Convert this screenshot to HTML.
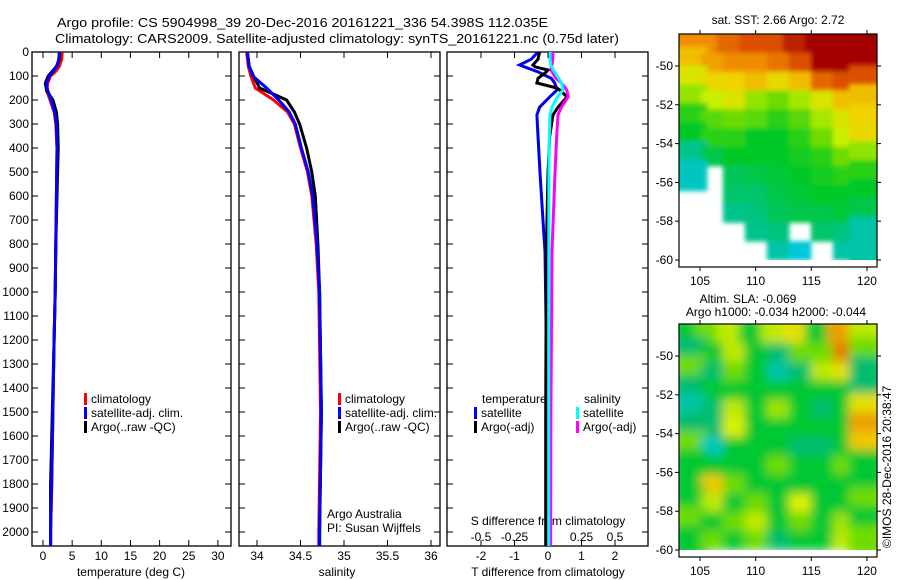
<!DOCTYPE html>
<html><head><meta charset="utf-8"><style>
html,body{margin:0;padding:0;background:#fff;}
svg{display:block;font-family:"Liberation Sans",sans-serif;}
</style></head><body>
<svg id="fig" width="900" height="580" viewBox="0 0 900 580" xmlns="http://www.w3.org/2000/svg">
<text x="57" y="27" font-size="13" textLength="491" lengthAdjust="spacingAndGlyphs">Argo profile: CS 5904998_39 20-Dec-2016 20161221_336 54.398S 112.035E</text>
<text x="55" y="43" font-size="13" textLength="564" lengthAdjust="spacingAndGlyphs">Climatology: CARS2009. Satellite-adjusted climatology: synTS_20161221.nc (0.75d later)</text>
<g id="g"></g>
</svg>
<script>
// ---- profile data (depth m) ----
const tDepth=[0,30,60,80,100,130,160,200,250,300,400,600,800,1000,1200,1500,1800,2000,2058];
const tClim=[3.3,3.2,2.8,2.2,1.3,0.8,0.6,1.2,1.9,2.2,2.4,2.3,2.2,2.1,1.9,1.7,1.5,1.3,1.3];
const tSat=[2.8,2.7,2.4,1.8,1.1,0.6,0.8,1.4,2.0,2.3,2.4,2.3,2.2,2.1,1.9,1.7,1.5,1.3,1.3];
const tArgo=[2.9,2.8,2.3,1.6,0.9,0.4,0.6,1.7,2.3,2.5,2.6,2.4,2.2,2.1,1.9,1.6,1.3,1.3,1.3];
const sDepth=[0,60,100,150,200,250,300,400,500,600,800,1000,1500,2000,2058];
const sClim=[33.88,33.90,33.93,33.98,34.19,34.35,34.43,34.50,34.58,34.63,34.68,34.71,34.73,34.71,34.71];
const sSat=[33.89,33.91,33.95,34.11,34.25,34.37,34.44,34.51,34.59,34.64,34.69,34.72,34.74,34.72,34.72];
const sArgo=[33.89,33.91,33.96,34.03,34.34,34.43,34.49,34.57,34.63,34.67,34.70,34.72,34.74,34.72,34.72];
const dDepth=[0,30,54,62,75,83,110,129,150,158,187,230,262,350,504,833,1200,1500,2000,2058];
const dTsat=[-0.3,-0.5,-0.85,-0.7,-0.45,-0.3,0.1,0.2,0.25,0.27,0.05,-0.25,-0.33,-0.3,-0.24,-0.09,-0.05,-0.03,-0.03,-0.03];
const dTargo=[-0.25,-0.3,-0.45,-0.38,0.0,-0.05,-0.3,-0.33,0.27,0.35,0.57,0.3,0.15,0.05,0.0,-0.05,-0.06,-0.07,-0.07,-0.07];
const dSsat=[0.015,0.015,0.02,0.03,0.04,0.05,0.08,0.1,0.11,0.112,0.07,0.03,0.015,0.01,0.007,0.006,0.005,0.005,0.005,0.005];
const dSargo=[0.037,0.035,0.03,0.025,0.022,0.03,0.06,0.1,0.13,0.14,0.15,0.1,0.075,0.065,0.052,0.03,0.025,0.022,0.02,0.02];
const depthTicks=[0,100,200,300,400,500,600,700,800,900,1000,1100,1200,1300,1400,1500,1600,1700,1800,1900,2000];
const tTicks=[0,5,10,15,20,25,30];
const sTicks=[34,34.5,35,35.5,36];
const dtTicks=[-2,-1,0,1,2];
const dsTicks=[-0.5,-0.25,0,0.25,0.5];
const dsTickLabels=["-0.5","-0.25","0","0.25","0.5"];
// ---- map data ----
const mapLonEdges=[103.1,120.9];
const mapLatEdges=[-48.35,-60];
const sst=[
[5,5,5.3,5.5,5.5,5.8,6,6,6],
[4.5,4.8,5,5,5.2,5.5,6,6,6],
[4,4.2,4.3,4.5,4.2,4.5,5.3,5.5,5.5],
[3.5,3.8,4,3.5,3.3,3.6,4,4.5,4.5],
[3,3.2,3.3,3.2,3,3.2,3.6,4,4.3],
[2.8,3,3,2.8,2.8,3,3.3,3.8,4.2],
[2.2,2.6,2.8,2.8,2.8,2.9,3,3.3,3.5],
[1.8,null,2.5,2.6,2.7,2.8,2.9,3,3],
[null,null,2.4,2.4,2.6,2.7,2.8,2.8,2.8],
[null,null,2.2,2.3,2.5,2.6,2.6,2.7,2.6],
[null,null,null,2.2,2.3,null,2.4,2.3,2.0],
[null,null,null,null,2,1.6,null,2,2]];
const sla=[
[0,0.05,0.1,0,0.1,0.15,0,0.25,0.1],
[-0.05,0,0.1,0,-0.05,0.05,0.05,0.3,0.05],
[0.05,-0.05,0.05,0,-0.1,-0.05,0.1,0.15,-0.05],
[-0.05,0,0,0,0,0,0,0,-0.05],
[-0.1,-0.05,0.1,0,0.08,0,-0.05,0,0.15],
[-0.05,-0.05,0.12,0,0,0,0,0,0.25],
[0.05,-0.12,0,0,0,-0.05,-0.05,0,0.2],
[0,0,0,0,0.05,0,0,0.05,0],
[0,0.2,0.05,0,0,0,0,0,0],
[0,0.1,0,0.05,0,0.12,0,0,0.05],
[0.05,0,0.05,0.1,0,0.05,0,0.08,0],
[0,0.05,0,0.05,-0.05,0,0,0.1,0.05]];
const lonTicks=[105,110,115,120];
const latTicks=[-50,-52,-54,-56,-58,-60];

const NS="http://www.w3.org/2000/svg";
const G=document.getElementById('g');
function el(tag,attrs,parent,txt){const e=document.createElementNS(NS,tag);for(const k in attrs)e.setAttribute(k,attrs[k]);if(txt!==undefined)e.textContent=txt;(parent||G).appendChild(e);return e;}
const TOP=52,BOT=546;
const yD=d=>TOP+d*0.24;
const xT=v=>43+v*5.83;
const xS=v=>257+(v-34)*87;
const xDT=v=>548+v*33.5;
const xDS=v=>548+v*134;

function frame(x0,x1,name){
  const r=el('rect',{x:x0,y:TOP,width:x1-x0,height:BOT-TOP,fill:'none',stroke:'#000','stroke-width':1.3});
  
  
  depthTicks.forEach(d=>{
    const y=yD(d);
    const t=el('line',{x1:x0,x2:x0+6,y1:y,y2:y,stroke:'#000'});
    
    
    const t2=el('line',{x1:x1,x2:x1-6,y1:y,y2:y,stroke:'#000'});
    
    
  });
}
function xticks(ticks,fx,labels,ylab,name){
  ticks.forEach((v,i)=>{
    const x=fx(v);
    const a=el('line',{x1:x,x2:x,y1:BOT,y2:BOT-6,stroke:'#000'});
    
    
    const b=el('line',{x1:x,x2:x,y1:TOP,y2:TOP+6,stroke:'#000'});
    
    
    const t=el('text',{x:x,y:ylab,'font-size':12,'text-anchor':'middle'},G,labels?labels[i]:String(v));
    
    
  });
}
function line(depths,vals,fx,color,name,w){
  const pts=depths.map((d,i)=>fx(vals[i]).toFixed(1)+','+yD(d).toFixed(1)).join(' ');
  const p=el('polyline',{points:pts,fill:'none',stroke:color,'stroke-width':w||3,'stroke-linejoin':'miter'});
  
  
}
function txt(x,y,s,name,opts){
  const t=el('text',Object.assign({x:x,y:y,'font-size':12},opts||{}),G,s);
  
  
  return t;
}
function legend(x,y,color,label,name){
  const r=el('rect',{x:x,y:y-6,width:3,height:12,fill:color});
  
  
  txt(x+7,y+4,label,name);
}

depthTicks.forEach(d=>txt(29,yD(d)+4,String(d),'depth-label',{'text-anchor':'end'}));

frame(32,231,'temperature-panel');
xticks(tTicks,xT,null,560,'temperature-axis');
txt(131,576,'temperature (deg C)','temperature-axis-title',{'text-anchor':'middle'});
line(tDepth,tClim,xT,'#f00','temperature-climatology-line');
line(tDepth,tArgo,xT,'#000','temperature-argo-line');
line(tDepth,tSat,xT,'#00f','temperature-satellite-line');
legend(84,399,'#f00','climatology','legend-climatology');
legend(84,413,'#00f','satellite-adj. clim.','legend-satellite-adj');
legend(84,427,'#000','Argo(..raw -QC)','legend-argo');

frame(239,440,'salinity-panel');
xticks(sTicks,xS,null,560,'salinity-axis');
txt(337,576,'salinity','salinity-axis-title',{'text-anchor':'middle'});
line(sDepth,sClim,xS,'#f00','salinity-climatology-line');
line(sDepth,sArgo,xS,'#000','salinity-argo-line');
line(sDepth,sSat,xS,'#00f','salinity-satellite-line');
legend(338,399,'#f00','climatology','legend-climatology-s');
legend(338,413,'#00f','satellite-adj. clim.','legend-satellite-adj-s');
legend(338,427,'#000','Argo(..raw -QC)','legend-argo-s');
txt(327,518,'Argo Australia','argo-australia-label');
txt(327,532,'PI: Susan Wijffels','pi-label');

frame(447,648,'difference-panel');
xticks(dtTicks,xDT,null,560,'t-diff-axis');
dsTicks.forEach((v,i)=>txt(xDS(v),541,dsTickLabels[i],'s-diff-tick-label',{'text-anchor':'middle'}));
txt(548,525,'S difference from climatology','s-diff-axis-title',{'text-anchor':'middle'});
txt(548,576,'T difference from climatology','t-diff-axis-title',{'text-anchor':'middle'});
line(dDepth,dTsat,xDT,'#0000ee','t-diff-satellite-line');
line(dDepth,dTargo,xDT,'#000','t-diff-argo-line');
line(dDepth,dSargo,xDS,'#f0f','s-diff-argo-line');
line(dDepth,dSsat,xDS,'#0ff','s-diff-satellite-line');
txt(482,403,'temperature','legend-temperature-header');
txt(584,403,'salinity','legend-salinity-header');
legend(474,413,'#00f','satellite','legend-t-satellite');
legend(474,427,'#000','Argo(-adj)','legend-t-argo');
legend(576,413,'#0ff','satellite','legend-s-satellite');
legend(576,427,'#f0f','Argo(-adj)','legend-s-argo');

function interp(stops,v){
  if(v<=stops[0][0])return stops[0][1];
  for(let i=1;i<stops.length;i++){if(v<=stops[i][0]){const a=stops[i-1],b=stops[i],f=(v-a[0])/(b[0]-a[0]);return 'rgb('+a[1].map((c,k)=>Math.round(c+(b[1][k]-c)*f)).join(',')+')';}}
  return stops[stops.length-1][1];
}
const sstStops=[[1.5,[0,200,230]],[2.2,[0,195,140]],[2.8,[0,200,40]],[3.3,[110,220,0]],[3.8,[200,240,0]],[4.3,[240,210,0]],[5,[240,140,0]],[5.5,[220,80,0]],[6,[165,0,0]]];
const slaStops=[[-0.12,[0,200,190]],[-0.05,[0,190,110]],[0,[0,200,50]],[0.05,[110,220,0]],[0.12,[220,240,0]],[0.2,[240,200,0]],[0.3,[230,120,0]]];
function fix(c){return Array.isArray(c)?'rgb('+c.join(',')+')':c;}
function map(top,grid,stops,name,blur,pad){
  const x0=679,x1=877,yTop=top,yData=top+226,yBot=top+233;
  const lx=lon=>700+(lon-105)*11.13;
  const ly=lat=>top+32+(-50-lat)*19.4;
  const g=el('g',{});
  
  
  const cid='clip'+name;
  const cp=el('clipPath',{id:cid},g);el('rect',{x:x0,y:yTop,width:x1-x0,height:yData-yTop},cp);
  const inner=el('g',{'clip-path':'url(#'+cid+')'},g);
  let tgt=inner;
  if(blur){const f=el('filter',{id:'bl'+name,x:'-10%',y:'-10%',width:'120%',height:'120%'},g);el('feGaussianBlur',{stdDeviation:blur},f);tgt=el('g',{filter:'url(#bl'+name+')'},inner);}
  const nr=grid.length,nc=grid[0].length;
  const dLon=(mapLonEdges[1]-mapLonEdges[0])/nc,dLat=(mapLatEdges[0]-mapLatEdges[1])/nr;
  grid.forEach((row,r)=>row.forEach((v,c)=>{
    if(v===null)return;
    const p=(pad&&(c===0||c===nc-1||r===0))?6:0;
    const xa=lx(mapLonEdges[0]+c*dLon),xb=lx(mapLonEdges[0]+(c+1)*dLon);
    const ya=ly(mapLatEdges[0]-r*dLat),yb=ly(mapLatEdges[0]-(r+1)*dLat);
    const e=el('rect',{x:xa-p,y:ya-p,width:xb-xa+0.5+2*p,height:yb-ya+0.5+2*p,fill:fix(interp(stops,v))},tgt);
    
    
  }));
  const fr=el('rect',{x:x0,y:yTop,width:x1-x0,height:yBot-yTop,fill:'none',stroke:'#000','stroke-width':1.2},g);
  
  
  latTicks.forEach(l=>{const y=ly(l);el('line',{x1:x0,x2:x0-4,y1:y,y2:y,stroke:'#000'},g);el('line',{x1:x1,x2:x1+4,y1:y,y2:y,stroke:'#000'},g);
    txt(673,y+4,String(l),name+'-lat-label',{'text-anchor':'end'});});
  lonTicks.forEach(l=>{const x=lx(l);el('line',{x1:x,x2:x,y1:yBot,y2:yBot+4,stroke:'#000'},g);el('line',{x1:x,x2:x,y1:yTop,y2:yTop-4,stroke:'#000'},g);
    txt(x,yBot+18,String(l),name+'-lon-label',{'text-anchor':'middle'});});
}
map(34,sst,sstStops,'sst-map',2.5,true);
txt(778,24,'sat. SST: 2.66 Argo: 2.72','sst-map-title',{'text-anchor':'middle'});
map(324,sla,slaStops,'sla-map',5,true);
txt(748,303,'Altim. SLA: -0.069','sla-map-title',{'text-anchor':'middle'});
txt(776,316,'Argo h1000: -0.034 h2000: -0.044','sla-map-subtitle',{'text-anchor':'middle'});
txt(0,0,'©IMOS 28-Dec-2016 20:38:47','imos-stamp',{transform:'translate(891,548) rotate(-90)'});
const vl=el('line',{x1:648,x2:648,y1:52,y2:546,stroke:'#000'});


</script>
</body></html>
